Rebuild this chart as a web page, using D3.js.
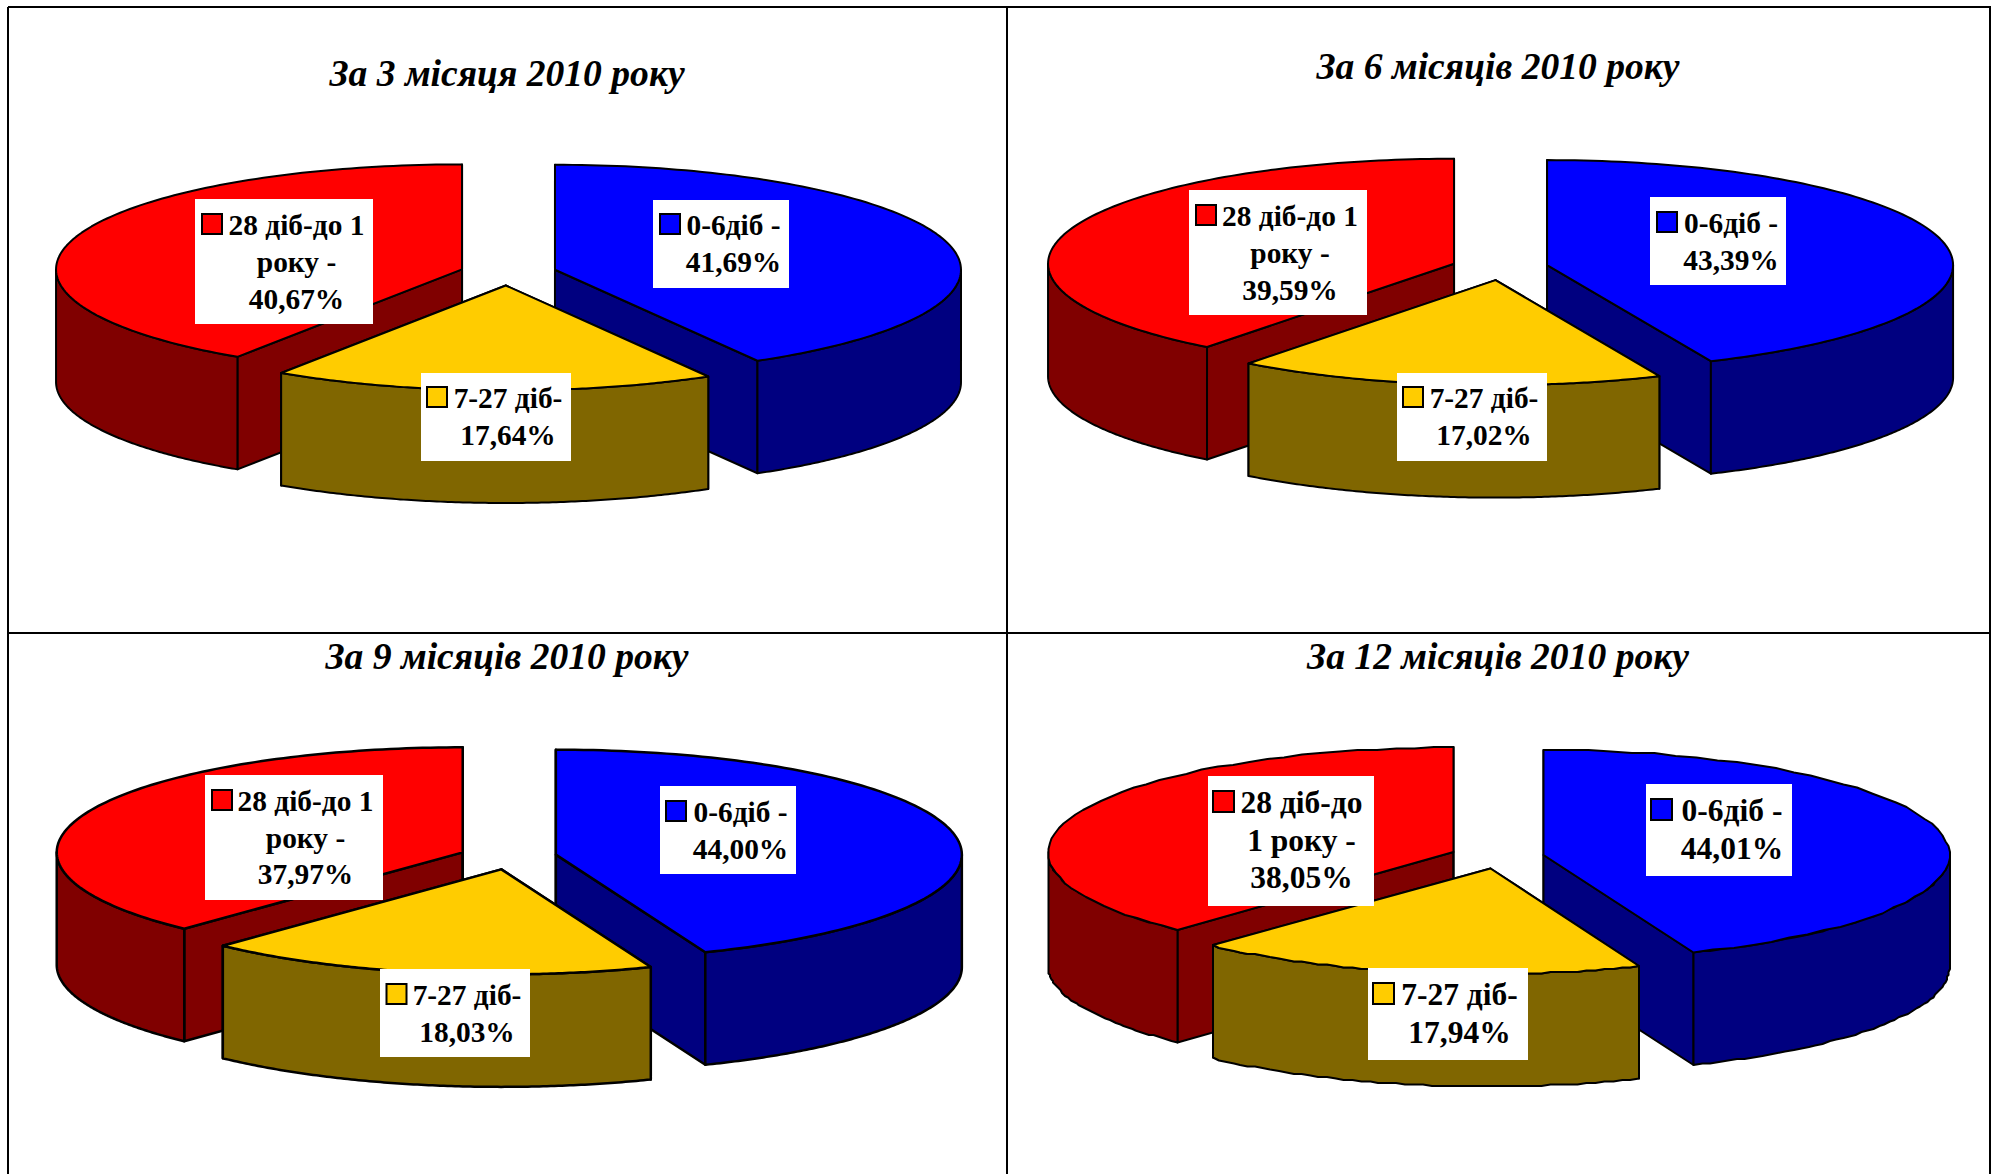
<!DOCTYPE html>
<html>
<head>
<meta charset="utf-8">
<script src="https://cdn.jsdelivr.net/npm/d3@7"></script>
<style>
  html, body { margin: 0; padding: 0; background: #fff; }
  svg { display: block; }
  text { font-family: "Liberation Serif", serif; font-weight: bold; fill: #000; }
</style>
</head>
<body>
<div id="my_dataviz"></div>
<script>
// chart data
const titles = ["За 3 місяця 2010 року", "За 6 місяців 2010 року", "За 9 місяців 2010 року", "За 12 місяців 2010 року"];
const categories = ["0-6діб", "7-27 діб", "28 діб-до 1 року"];
const values3m = [41.69, 17.64, 40.67];
const values6m = [43.39, 17.02, 39.59];
const values9m = [44.00, 18.03, 37.97];
const values12m = [44.01, 17.94, 38.05];
const periods = [values3m, values6m, values9m, values12m];

// how the label text is broken in each chart (the value goes last)
const wrap3m = [["0-6діб -"], ["7-27 діб-"], ["28 діб-до 1", "року -"]];
const wrap12m = [["0-6діб -"], ["7-27 діб-"], ["28 діб-до", "1 року -"]];
const wraps = [wrap3m, wrap3m, wrap3m, wrap12m];

const colors = ["#0000ff", "#ffcc00", "#ff0000"];
const sideColors = ["#000080", "#806600", "#800000"];

// layout
const width = 1991, height = 1174;
const rx = 406, ry = 105, depth = 112.5;
const charts = [
  {cx: 508.3, cy: 273, explode: 0.119, titleX: 507, titleY: 86, fs: 29.4, step: 37, sw: 2, key: 20, yellowShift: -1, grain: 0},
  {cx: 1499.8, cy: 267.7, explode: 0.119, titleX: 1498, titleY: 79, fs: 29.4, step: 37, sw: 2, key: 20, yellowShift: 1.5, grain: 0},
  {cx: 508, cy: 857, explode: 0.12, titleX: 507, titleY: 668.5, fs: 29.4, step: 36.5, sw: 2.5, key: 20, yellowShift: 2.5, grain: 0},
  {cx: 1497.5, cy: 857, explode: 0.1155, titleX: 1498, titleY: 668.5, fs: 31.5, step: 37.5, sw: 2, key: 21, yellowShift: 1, grain: 1.5}
];
// white label boxes: x0, y0, x1, y1, text centre, first baseline, key x
const labelBoxes = [
  [[653, 200, 789, 288, 733.5, 235, 660], [421, 373, 571, 461, 508, 408, 427], [195, 199, 373, 324, 296.5, 235, 202]],
  [[1650, 197, 1786, 285, 1731, 233, 1657], [1397, 373, 1547, 461, 1484, 408, 1403], [1189, 190, 1367, 315, 1290, 226, 1196]],
  [[660, 786, 796, 874, 740.5, 822, 666], [380, 969, 530, 1057, 467, 1005, 386.5], [205, 775, 383, 900, 305.5, 811, 212]],
  [[1646, 784, 1792, 876, 1732, 821, 1651], [1368, 968, 1528, 1060, 1459.5, 1005, 1373], [1208, 776, 1374, 906, 1301.5, 813, 1213]]
];

const svg = d3.select("#my_dataviz")
.append("svg")
  .attr("width", width)
  .attr("height", height);

// table frame
const frame = [[8, 7, 8, height], [8, 7, width, 7], [1007, 7, 1007, height], [8, 633, width, 633], [1990, 7, 1990, height]];
svg.selectAll("line.frame")
  .data(frame)
  .enter()
  .append("line")
    .attr("class", "frame")
    .attr("x1", d => d[0]).attr("y1", d => d[1])
    .attr("x2", d => d[2]).attr("y2", d => d[3])
    .attr("stroke", "#000")
    .attr("stroke-width", 2);

const pie = d3.pie().sort(null).value(d => d);
const fmt = v => d3.format(".2f")(v).replace(".", ",") + "%";

periods.forEach((vals, ci) => {
  const c = charts[ci];
  const x = d3.scaleLinear().domain([-1, 1]).range([c.cx - rx, c.cx + rx]);
  const y = d3.scaleLinear().domain([-1, 1]).range([c.cy - ry, c.cy + ry]);
  // the last chart has a rough, scalloped outline in the reference
  const snap = v => c.grain ? Math.round(v / c.grain) * c.grain : v;
  const line = d3.line().x(d => snap(x(d[0]))).y(d => snap(y(d[1]) + d[2]));
  const segs = c.grain ? 50 : 120;

  const g = svg.append("g");
  g.append("text")
    .attr("x", c.titleX).attr("y", c.titleY)
    .attr("text-anchor", "middle")
    .style("font-style", "italic")
    .style("font-size", "37.6px")
    .text(titles[ci]);

  const arcs = pie(vals).map((a, i) => {
    const mid = (a.startAngle + a.endAngle) / 2;
    const ox = c.explode * Math.sin(mid), oy = -c.explode * Math.cos(mid);
    const pt = (ang, dz) => [ox + Math.sin(ang), oy - Math.cos(ang), dz];
    const apex = dz => [ox, oy, dz];
    const rim = (a0, a1, dz) => d3.range(0, segs + 1).map(t => pt(a0 + (a1 - a0) * t / segs, dz));
    return {i, mid, a, pt, apex, rim};
  });

  // back slices first
  arcs.slice().sort((p, q) => d3.descending(Math.cos(p.mid), Math.cos(q.mid))).forEach(s => {
    const sg = g.append("g")
      .attr("transform", s.i === 1 ? `translate(${c.yellowShift},0)` : null)
      .attr("stroke", "#000")
      .attr("stroke-width", c.sw)
      .attr("stroke-linejoin", "round");
    const a0 = s.a.startAngle, a1 = s.a.endAngle;
    // radial cut faces
    [a0, a1].forEach(ang => {
      sg.append("path")
        .attr("d", line([s.apex(0), s.pt(ang, 0), s.pt(ang, depth), s.apex(depth)]) + "Z")
        .attr("fill", sideColors[s.i]);
    });
    // outer wall, front half only
    const w0 = Math.max(a0, Math.PI / 2), w1 = Math.min(a1, 3 * Math.PI / 2);
    if (w1 > w0) {
      sg.append("path")
        .attr("d", line(s.rim(w0, w1, 0).concat(s.rim(w1, w0, depth))) + "Z")
        .attr("fill", sideColors[s.i]);
    }
    // top face
    sg.append("path")
      .attr("d", line([s.apex(0)].concat(s.rim(a0, a1, 0))) + "Z")
      .attr("fill", colors[s.i]);
  });

  // labels
  arcs.forEach(s => {
    const b = labelBoxes[ci][s.i];
    const lines = wraps[ci][s.i].concat(fmt(vals[s.i]));
    const lg = g.append("g").attr("aria-label", categories[s.i]);
    lg.append("rect")
      .attr("x", b[0]).attr("y", b[1])
      .attr("width", b[2] - b[0]).attr("height", b[3] - b[1])
      .attr("fill", "#fff");
    lg.append("rect")
      .attr("x", b[6]).attr("y", b[5] - c.key - 1)
      .attr("width", c.key).attr("height", c.key)
      .attr("fill", colors[s.i])
      .attr("stroke", "#000")
      .attr("stroke-width", 2);
    lg.selectAll("text")
      .data(lines)
      .enter()
      .append("text")
        .attr("x", b[4])
        .attr("y", (d, k) => b[5] + k * c.step)
        .attr("text-anchor", "middle")
        .style("font-size", c.fs + "px")
        .text(d => d);
  });
});
</script>
</body>
</html>
